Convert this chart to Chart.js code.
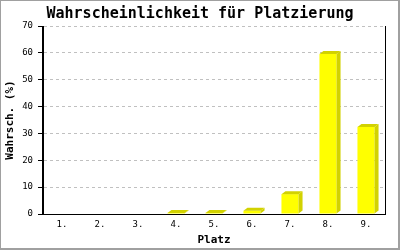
<!DOCTYPE html>
<html>
<head>
<meta charset="utf-8">
<script src="https://cdn.jsdelivr.net/npm/chart.js@4"></script>
<style>
  body { margin: 0; background: #ffffff; }
  #chart { display: block; }
</style>
</head>
<body>
<canvas id="chart" width="400" height="250"></canvas>
<script>
const places = ['1.', '2.', '3.', '4.', '5.', '6.', '7.', '8.', '9.'];
const probabilities = [0, 0, 0, 0.4, 0.4, 1.2, 7.4, 59.6, 32.4];
const yTicks = [0, 10, 20, 30, 40, 50, 60, 70];

const mono = "'DejaVu Sans Mono', 'Liberation Mono', monospace";

// seitliche und obere Flaeche der Balken (3D-Effekt)
const depthPlugin = {
    id: 'depth',
    afterDatasetsDraw(chart) {
        const ctx = chart.ctx;
        const dx = 4, dy = 3;
        ctx.save();
        ctx.fillStyle = '#d2d200';
        chart.getDatasetMeta(0).data.forEach(function(bar, i) {
            if (!probabilities[i]) return;
            const left = bar.x - bar.width / 2;
            const right = bar.x + bar.width / 2;
            const top = bar.y;
            const base = bar.base;
            ctx.beginPath();
            ctx.moveTo(right, top);
            ctx.lineTo(right + dx, top - dy);
            ctx.lineTo(right + dx, base - dy);
            ctx.lineTo(right, base);
            ctx.closePath();
            ctx.fill();
            ctx.beginPath();
            ctx.moveTo(left, top);
            ctx.lineTo(left + dx, top - dy);
            ctx.lineTo(right + dx, top - dy);
            ctx.lineTo(right, top);
            ctx.closePath();
            ctx.fill();
        });
        ctx.restore();
    },
    afterDraw(chart) {
        const ctx = chart.ctx;
        const area = chart.chartArea;
        ctx.save();
        // Achsen durchgezogen
        ctx.strokeStyle = '#000000';
        ctx.lineWidth = 1;
        ctx.beginPath();
        ctx.moveTo(Math.round(area.left) - 0.5, area.top);
        ctx.lineTo(Math.round(area.left) - 0.5, area.bottom);
        ctx.moveTo(Math.round(area.right) + 0.5, area.top);
        ctx.lineTo(Math.round(area.right) + 0.5, area.bottom);
        ctx.stroke();
        // Rahmen
        ctx.fillStyle = '#a0a0a0';
        ctx.fillRect(0, 0, 400, 1);
        ctx.fillRect(0, 0, 1, 250);
        ctx.fillRect(398, 0, 2, 250);
        ctx.fillRect(0, 248, 400, 2);
        ctx.restore();
    }
};

new Chart(document.getElementById('chart'), {
    type: 'bar',
    data: {
        labels: places,
        datasets: [{
            label: 'Wahrscheinlichkeit',
            data: probabilities,
            backgroundColor: '#ffff00',
            borderWidth: 0,
            barPercentage: 0.45,
            categoryPercentage: 1.0
        }]
    },
    options: {
        responsive: false,
        animation: false,
        layout: { padding: 0 },
        plugins: {
            legend: { display: false },
            tooltip: { enabled: false },
            title: {
                display: true,
                text: 'Wahrscheinlichkeit für Platzierung',
                color: '#000000',
                font: { family: mono, size: 15, weight: 'bold' },
                padding: { top: 5, bottom: 3 }
            }
        },
        scales: {
            x: {
                grid: { display: false, drawTicks: false, tickLength: 0 },
                border: { display: true, color: '#000000', width: 1 },
                ticks: {
                    color: '#000000',
                    font: { family: mono, size: 9 },
                    padding: 5
                },
                title: {
                    display: true,
                    text: 'Platz',
                    color: '#000000',
                    font: { family: mono, size: 11, weight: 'bold' },
                    padding: { top: 4, bottom: 3 }
                },
                afterFit(scale) { scale.height = 36; }
            },
            y: {
                min: 0,
                max: 70,
                afterBuildTicks(scale) {
                    scale.ticks = yTicks.map(v => ({ value: v }));
                },
                grid: {
                    color: '#c0c0c0',
                    tickColor: '#000000',
                    tickLength: 5
                },
                border: { display: true, color: '#000000', width: 1, dash: [3, 3] },
                ticks: {
                    color: '#000000',
                    font: { family: mono, size: 9 },
                    padding: 5
                },
                title: {
                    display: true,
                    text: 'Wahrsch. (%)',
                    color: '#000000',
                    font: { family: mono, size: 11, weight: 'bold' },
                    padding: { top: 4, bottom: 4 }
                },
                afterFit(scale) { scale.width = 43; }
            },
            yRight: {
                position: 'right',
                min: 0,
                max: 70,
                grid: { drawOnChartArea: false, drawTicks: false },
                border: { display: false },
                ticks: { display: false },
                afterFit(scale) { scale.width = 15; }
            }
        }
    },
    plugins: [depthPlugin]
});
</script>
</body>
</html>
